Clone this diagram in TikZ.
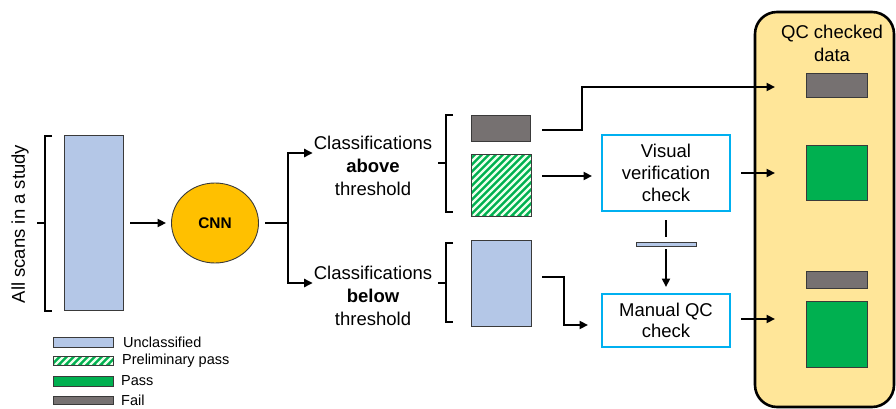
\documentclass[tikz,border=0pt]{standalone}
\usepackage{fontspec}
\setmainfont{Liberation Sans}
\usetikzlibrary{arrows.meta,shapes.geometric}
\definecolor{uncl}{HTML}{B4C7E7}
\definecolor{failc}{HTML}{767171}
\definecolor{passc}{HTML}{00B050}
\definecolor{cnnc}{HTML}{FFC000}
\definecolor{panelc}{HTML}{FFE699}
\definecolor{cyanb}{HTML}{00B0F0}
\definecolor{edgec}{HTML}{3A3A3A}
\tikzset{
  blk/.style={draw=edgec, line width=0.9pt, inner sep=0pt, outer sep=0pt},
  hatchbox/.style={blk, fill=passc, path picture={
      \foreach \k in {-110,-103,...,80}
        \draw[white!92!green, line width=2.4pt]
          ([xshift=\k pt]path picture bounding box.south west) -- ++(110pt,110pt);}},
  checkbox/.style={draw=cyanb, line width=1.6pt, inner sep=0pt, outer sep=0pt, align=center, fill=white},
  brk/.style={line width=2.4pt, line cap=butt, line join=miter},
  conn/.style={line width=2.6pt, line join=miter},
  arr/.style={conn, -{Triangle[length=8.5pt,width=8pt]}},
  bigtxt/.style={font=\fontsize{18.5}{23}\selectfont, inner sep=0pt, align=center},
  legtxt/.style={font=\fontsize{14.5}{16}\selectfont, inner sep=0pt, anchor=west}
}
\begin{document}
\begin{tikzpicture}[x=1pt,y=-1pt]
\useasboundingbox (0,0) rectangle (896,409);

% QC panel
\node[draw=black, line width=2.6pt, rounded corners=22pt, fill=panelc, minimum width=139pt, minimum height=395pt, inner sep=0pt] (panel) at (824.5,209.5) {};
\node[bigtxt] (qctxt) at (832,43.5) {QC checked\\data};

% left label and bracket
\node[bigtxt, rotate=90] (scanslbl) at (20,224) {All scans in a study};
\draw[brk] (52,136) -- (45,136) -- (45,311) -- (52,311);
\draw[brk] (45,223) -- (37,223);

% scans and CNN
\node[blk, fill=uncl, minimum width=59pt, minimum height=175pt] (scans) at (93.5,223) {};
\node[ellipse, draw=edgec, line width=0.9pt, fill=cnnc, minimum width=87pt, minimum height=80pt, inner sep=0pt] (cnn) at (215,223) {\fontsize{15.4}{18}\selectfont\textbf{CNN}};
\draw[arr] ([xshift=7pt]scans.east) -- ([xshift=-5pt]cnn.west);

% classification texts
\node[bigtxt] (above) at (373,166) {Classifications\\\textbf{above}\\threshold};
\node[bigtxt] (below) at (373,295.5) {Classifications\\\textbf{below}\\threshold};
\coordinate (fork) at (288,223);
\draw[conn] ([xshift=6.5pt]cnn.east) -- (fork);
\draw[arr] (fork) |- ([xshift=-1pt,yshift=13pt]above.west);
\draw[arr] (fork) |- ([xshift=-1pt,yshift=12.5pt]below.west);

% brackets at results
\draw[brk] (453,115) -- (446,115) -- (446,212) -- (453,212);
\draw[brk] (446,163) -- (438,163);
\draw[brk] (453,243) -- (446,243) -- (446,322) -- (453,322);
\draw[brk] (446,283) -- (438,283);

% result boxes
\node[blk, fill=failc, minimum width=59pt, minimum height=26pt] (fail1) at (500.5,128) {};
\node[hatchbox, minimum width=60pt, minimum height=62pt] (hatch1) at (501,185) {};
\node[blk, fill=uncl, minimum width=60pt, minimum height=86pt] (unc2) at (501,283) {};

% check boxes
\node[checkbox, minimum width=128pt, minimum height=76pt, font=\fontsize{18.5}{22}\selectfont] (visual) at (666,173) {Visual\\verification\\check};
\node[checkbox, minimum width=128pt, minimum height=53pt, font=\fontsize{18.5}{21.5}\selectfont] (manual) at (666,320.5) {Manual QC\\check};
\node[blk, fill=uncl, minimum width=60pt, minimum height=4pt] (bar) at (666,244) {};

% QC data boxes
\node[blk, fill=failc, minimum width=61pt, minimum height=24pt] (fail2) at (836.5,85) {};
\node[blk, fill=passc, minimum width=61pt, minimum height=55pt] (pass2) at (836.5,172.5) {};
\node[blk, fill=failc, minimum width=61pt, minimum height=17pt] (fail3) at (836.5,279.5) {};
\node[blk, fill=passc, minimum width=61pt, minimum height=66pt] (pass3) at (836.5,334) {};

% connectors
\draw[arr] ([xshift=12pt,yshift=-2pt]fail1.east) -- ++(40pt,0pt) |- ([xshift=-31pt,yshift=-2pt]fail2.west);
\draw[arr] ([xshift=11pt,yshift=9pt]hatch1.east) -- ++(50pt,0pt);
\draw[arr] ([xshift=11pt]visual.east) -- ++(34pt,0pt);
\draw[arr] ([xshift=11pt,yshift=6pt]unc2.east) -- ++(22pt,0pt) |- ([xshift=-14pt,yshift=-4.5pt]manual.west);
\draw[arr] ([xshift=11pt,yshift=1.5pt]manual.east) -- ++(34pt,0pt);
\draw[conn] ([yshift=-9pt]visual.south) -- ([yshift=5pt]bar.north);
\draw[arr] ([yshift=-3pt]bar.south) -- ([yshift=7pt]manual.north);

% legend
\node[blk, fill=uncl, minimum width=60pt, minimum height=10pt] (lg1) at (83,342) {};
\node[hatchbox, minimum width=60pt, minimum height=9pt] (lg2) at (83,360.5) {};
\node[blk, fill=passc, minimum width=60pt, minimum height=10pt] (lg3) at (83,381) {};
\node[blk, fill=failc, minimum width=60pt, minimum height=8pt] (lg4) at (83,400) {};
\node[legtxt] (lt1) at (123,342) {Unclassified};
\node[legtxt] (lt2) at (122,360.5) {Preliminary pass};
\node[legtxt] (lt3) at (121,381) {Pass};
\node[legtxt] (lt4) at (121,400) {Fail};
\end{tikzpicture}
\end{document}
